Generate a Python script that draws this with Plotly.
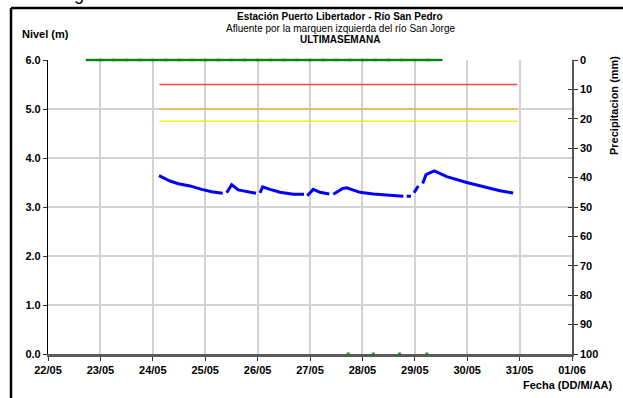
import plotly.graph_objects as go

# ---------------- data ----------------
level_dates = [
    "2013-05-24 02:50", "2013-05-24 07:53", "2013-05-24 11:41", "2013-05-24 17:02",
    "2013-05-24 22:24", "2013-05-25 02:58", "2013-05-25 08:01", None,
    "2013-05-25 09:50", "2013-05-25 12:09", "2013-05-25 15:10", "2013-05-25 19:00",
    "2013-05-25 23:15", None,
    "2013-05-26 01:06", "2013-05-26 02:20", "2013-05-26 05:41", "2013-05-26 10:15",
    "2013-05-26 16:21", "2013-05-26 21:15", None,
    "2013-05-26 22:45", "2013-05-27 01:30", "2013-05-27 04:35", "2013-05-27 08:50", None,
    "2013-05-27 10:40", "2013-05-27 15:00", "2013-05-27 16:48", "2013-05-27 19:50",
    "2013-05-27 22:54", "2013-05-28 05:00", "2013-05-28 12:39", "2013-05-28 18:45", None,
    "2013-05-28 20:17", "2013-05-28 22:15", None,
    "2013-05-28 23:38", "2013-05-29 01:37", None,
    "2013-05-29 03:37", "2013-05-29 05:08", "2013-05-29 08:56", "2013-05-29 14:37",
    "2013-05-29 23:46", "2013-05-30 08:55", "2013-05-30 15:01", "2013-05-30 20:23",
    "2013-05-30 21:00",
]
level_m = [
    3.64, 3.53, 3.475, 3.43,
    3.36, 3.31, 3.28, None,
    3.29, 3.455, 3.35, 3.31,
    3.28, None,
    3.29, 3.41, 3.36, 3.30,
    3.26, 3.26, None,
    3.23, 3.36, 3.30, 3.265, None,
    3.26, 3.38, 3.39, 3.35,
    3.30, 3.265, 3.245, 3.22, None,
    3.22, 3.22, None,
    3.29, 3.43, None,
    3.48, 3.66, 3.735, 3.62,
    3.50, 3.39, 3.33, 3.29,
    3.28,
]

threshold_dates = ["2013-05-24 03:00", "2013-05-30 23:00"]
threshold_red = [5.5, 5.5]
threshold_orange = [5.0, 5.0]
threshold_yellow = [4.75, 4.75]

precip_dates = [
    "2013-05-22 21:00", "2013-05-23 03:00", "2013-05-23 09:00", "2013-05-23 15:00",
    "2013-05-23 21:00", "2013-05-24 03:00", "2013-05-24 09:00", "2013-05-24 15:00",
    "2013-05-24 21:00", "2013-05-25 03:00", "2013-05-25 09:00", "2013-05-25 15:00",
    "2013-05-25 21:00", "2013-05-26 03:00", "2013-05-26 09:00", "2013-05-26 15:00",
    "2013-05-26 21:00", "2013-05-27 03:00", "2013-05-27 09:00", "2013-05-27 15:00",
    "2013-05-27 21:00", "2013-05-28 03:00", "2013-05-28 09:00", "2013-05-28 15:00",
    "2013-05-28 21:00", "2013-05-29 03:00", "2013-05-29 09:00",
]
precip_mm = [0, 0, 0, 0, 0, 0, 0, 0, 0, 0, 0, 0, 0, 0,
             0, 0, 0, 0, 0, 0, 0, 0, 0, 0, 0, 0, 0]

zero_dates = ["2013-05-27 17:30", "2013-05-28 05:00", "2013-05-28 17:00", "2013-05-29 05:30"]
zero_level = [0, 0, 0, 0]

x_tick_vals = ["2013-05-22", "2013-05-23", "2013-05-24", "2013-05-25", "2013-05-26",
               "2013-05-27", "2013-05-28", "2013-05-29", "2013-05-30", "2013-05-31",
               "2013-06-01"]
x_tick_text = ["22/05", "23/05", "24/05", "25/05", "26/05", "27/05", "28/05",
               "29/05", "30/05", "31/05", "01/06"]

# ---------------- figure ----------------
W, H = 623, 398
L, R, T, B = 48, 51, 60, 44
PW, PH = W - L - R, H - T - B
FONT = "Liberation Sans, Arial, sans-serif"


def px(x):
    return (x - L) / PW


def py(y):
    return (H - B - y) / PH


fig = go.Figure()

fig.add_trace(go.Scatter(x=threshold_dates, y=threshold_red, mode="lines",
                         line=dict(color="#ff4a4a", width=1.6), hoverinfo="skip"))
fig.add_trace(go.Scatter(x=threshold_dates, y=threshold_orange, mode="lines",
                         line=dict(color="#f2b43a", width=1.6), hoverinfo="skip"))
fig.add_trace(go.Scatter(x=threshold_dates, y=threshold_yellow, mode="lines",
                         line=dict(color="#f2ee10", width=1.6), hoverinfo="skip"))
fig.add_trace(go.Scatter(x=level_dates, y=level_m, mode="lines", connectgaps=False,
                         line=dict(color="#0000ff", width=3)))
fig.add_trace(go.Scatter(x=zero_dates, y=zero_level, mode="markers",
                         marker=dict(color="#1a9a1a", size=3, symbol="square"),
                         cliponaxis=False))
fig.add_trace(go.Scatter(x=precip_dates, y=precip_mm, yaxis="y2", mode="markers",
                         marker=dict(symbol="line-ew", size=11.5,
                                     line=dict(color="#108010", width=2.4)),
                         cliponaxis=False))

fig.update_layout(
    width=W, height=H,
    margin=dict(l=L, r=R, t=T, b=B),
    paper_bgcolor="white", plot_bgcolor="white",
    showlegend=False,
    font=dict(family=FONT, color="black", size=11),
    xaxis=dict(
        type="date", range=["2013-05-22", "2013-06-01"],
        tickvals=x_tick_vals, ticktext=x_tick_text,
        showgrid=True, gridcolor="#d2d2d2", gridwidth=1.5,
        showline=True, linecolor="#5a5a5a", linewidth=2.5,
        ticks="outside", ticklen=4, tickcolor="#333333",
        tickfont=dict(family=FONT, size=11, weight="bold"),
        zeroline=False,
    ),
    yaxis=dict(
        range=[0, 6], dtick=1, tickformat=".1f",
        showgrid=True, gridcolor="#d2d2d2", gridwidth=1.5,
        showline=True, linecolor="#000000", linewidth=1.2,
        ticks="outside", ticklen=4, tickcolor="#333333",
        tickfont=dict(family=FONT, size=11, weight="bold"),
        zeroline=False,
    ),
    yaxis2=dict(
        overlaying="y", side="right", range=[100, 0], dtick=10,
        showgrid=False, zeroline=False,
        showline=True, linecolor="#555555", linewidth=1.5,
        ticks="outside", ticklen=4, tickcolor="#333333",
        tickfont=dict(family=FONT, size=11, weight="bold"),
    ),
    yaxis3=dict(
        overlaying="y", side="right", range=[100, 0], dtick=10,
        showgrid=False, zeroline=False, showline=False,
        ticks="inside", ticklen=4, tickcolor="#333333",
        showticklabels=False,
    ),
)

# dummy trace to activate yaxis3
fig.add_trace(go.Scatter(x=[None], y=[None], yaxis="y3", hoverinfo="skip"))

annotations = [
    dict(text="<b>Estación Puerto Libertador - Río San Pedro</b>", x=px(340), y=py(17),
         font=dict(size=10)),
    dict(text="Afluente por la marquen izquierda del río San Jorge", x=px(340), y=py(28),
         font=dict(size=10)),
    dict(text="<b>ULTIMASEMANA</b>", x=px(340), y=py(39), font=dict(size=10)),
    dict(text="<b>Nivel (m)</b>", x=px(20), y=py(34), xanchor="left", font=dict(size=11)),
    dict(text="<b>Precipitacion (mm)</b>", x=px(614), y=py(106), textangle=-90,
         font=dict(size=11)),
    dict(text="<b>Fecha (DD/M/AA)</b>", x=px(521), y=py(385), xanchor="left",
         font=dict(size=11)),
    dict(text="San Jorge", x=px(10), y=py(6), xanchor="left", yanchor="bottom",
         font=dict(size=18)),
]
for a in annotations:
    a.setdefault("xanchor", "center")
    a.setdefault("yanchor", "middle")
    fig.add_annotation(xref="paper", yref="paper", showarrow=False, **a)

# outer black frame (left and top edges visible)
fig.add_shape(type="line", xref="paper", yref="paper",
              x0=px(11), x1=px(11), y0=py(8), y1=py(420),
              line=dict(color="black", width=2.5))
fig.add_shape(type="line", xref="paper", yref="paper",
              x0=px(11), x1=px(640), y0=py(8), y1=py(8),
              line=dict(color="black", width=2.5))

fig.write_html("out.html",
               config={"displayModeBar": False},
               post_script="document.body.style.margin='0px';"
                           "document.body.style.overflow='hidden';")
